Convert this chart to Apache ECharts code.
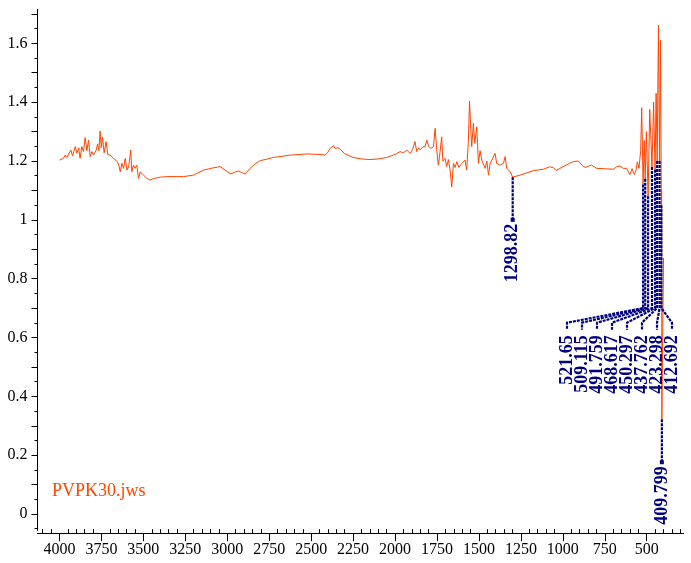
<!DOCTYPE html>
<html><head><meta charset="utf-8">
<script src="https://cdn.jsdelivr.net/npm/echarts@6/dist/echarts.min.js"></script>
<style>html,body{margin:0;padding:0;background:#fff}#c{width:691px;height:563px}</style>
</head><body><div id="c"></div>
<script>
// ---- data ----
const wavenumbers = [4000,3990,3976,3966,3956,3946,3932,3922,3906,3896,3886,3877,3867,3857,3847,3837,3827,3817,3807,3797,3781,3773,3765,3758,3751,3744,3734,3722,3712,3698,3688,3678,3668,3654,3644,3638,3628,3618,3608,3598,3588,3575,3569,3559,3549,3539,3529,3519,3499,3479,3460,3440,3400,3360,3300,3261,3201,3142,3090,3042,3013,2979,2955,2933,2910,2893,2864,2830,2804,2724,2625,2525,2440,2417,2400,2387,2367,2358,2351,2340,2327,2300,2250,2200,2150,2100,2050,2000,1970,1950,1930,1910,1895,1881,1871,1860,1850,1835,1821,1811,1800,1785,1771,1761,1752,1742,1732,1722,1715,1702,1692,1682,1672,1662,1652,1642,1632,1620,1602,1583,1573,1563,1556,1548,1543,1533,1525,1513,1503,1493,1483,1463,1453,1443,1434,1424,1404,1394,1374,1354,1344,1334,1314,1298.82,1255,1176,1116,1080,1057,1040,1000,960,937,907,885,867,848,828,798,760,700,680,660,640,620,600,587,580,573,563,556,546,536,530,521.65,515,509.115,502,491.759,482,468.617,459,450.297,444,437.762,430,423.298,418,412.692,411,409.799,405,400];
const transmittance = [1.203,1.205,1.209,1.220,1.212,1.215,1.237,1.217,1.249,1.226,1.245,1.209,1.249,1.232,1.280,1.235,1.271,1.215,1.232,1.220,1.237,1.258,1.235,1.302,1.245,1.282,1.228,1.266,1.222,1.220,1.226,1.209,1.215,1.197,1.180,1.163,1.192,1.175,1.209,1.169,1.180,1.237,1.163,1.186,1.175,1.186,1.141,1.163,1.152,1.141,1.135,1.140,1.145,1.147,1.147,1.147,1.152,1.169,1.176,1.181,1.169,1.156,1.162,1.166,1.160,1.156,1.175,1.192,1.201,1.212,1.220,1.224,1.222,1.220,1.230,1.243,1.252,1.243,1.238,1.245,1.240,1.225,1.212,1.207,1.205,1.207,1.212,1.222,1.232,1.228,1.237,1.226,1.240,1.266,1.232,1.245,1.238,1.248,1.249,1.271,1.250,1.243,1.249,1.311,1.240,1.186,1.230,1.282,1.200,1.209,1.181,1.205,1.169,1.112,1.192,1.178,1.198,1.178,1.192,1.203,1.169,1.266,1.404,1.300,1.249,1.328,1.260,1.316,1.192,1.235,1.203,1.175,1.200,1.152,1.190,1.186,1.226,1.192,1.186,1.192,1.215,1.175,1.163,1.145,1.152,1.167,1.172,1.180,1.178,1.168,1.180,1.192,1.198,1.200,1.185,1.178,1.182,1.186,1.175,1.174,1.172,1.180,1.183,1.175,1.175,1.154,1.174,1.162,1.154,1.170,1.197,1.175,1.235,1.381,1.12,1.27,1.14,1.30,1.08,1.375,1.18,1.40,1.17,1.43,1.20,1.662,1.20,1.61,1.05,1.10,0.322,0.60,0.87];

const fanPeaks = ["521.65","509.115","491.759","468.617","450.297","437.762","423.298","412.692"];
const singlePeaks = ["1298.82","409.799"];
const singleEnds = [1.0, 0.176];   // value where each single leader ends

const xMajorTicks = [4000,3750,3500,3250,3000,2750,2500,2250,2000,1750,1500,1250,1000,750,500];
const xMinorTicks = [4100,4050,3950,3900,3850,3800,3700,3650,3600,3550,3450,3400,3350,3300,3200,3150,3100,3050,2950,2900,2850,2800,2700,2650,2600,2550,2450,2400,2350,2300,2200,2150,2100,2050,1950,1900,1850,1800,1700,1650,1600,1550,1450,1400,1350,1300,1200,1150,1100,1050,950,900,850,800,700,650,600,550,450,400,350,300];
const yLabelTicks = [0,0.2,0.4,0.6,0.8,1,1.2,1.4,1.6];
const yMajorTicks = [0,0.1,0.2,0.3,0.4,0.5,0.6,0.7,0.8,0.9,1,1.1,1.2,1.3,1.4,1.5,1.6,1.7];
const yMinorTicks = [-0.05,0.05,0.15,0.25,0.35,0.45,0.55,0.65,0.75,0.85,0.95,1.05,1.15,1.25,1.35,1.45,1.55,1.65];

// ---- build ----
const spectrum = wavenumbers.map((w, i) => [w, transmittance[i]]);
function valueAt(label) {
  const i = wavenumbers.indexOf(parseFloat(label));
  return transmittance[i];
}
const fanData = fanPeaks.map((l, i) => [parseFloat(l), valueAt(l), i]);
const singleData = singlePeaks.map((l, i) => [parseFloat(l), valueAt(l), singleEnds[i], i]);

const NAVY = '#000080';
const LEAD = {stroke: NAVY, lineWidth: 2.2, lineDash: [3, 1], fill: null};
const SERIF = 'Liberation Serif';

const gridPos = {left: 37.5, right: 7.7, top: 9.5, bottom: 32.8, containLabel: false};
const X_MIN = 282, X_MAX = 4131, Y_MIN = -0.055, Y_MAX = 1.715;
const plain = v => String(v);

const chart = echarts.init(document.getElementById('c'), null, {renderer: 'canvas'});
chart.setOption({
  animation: false,
  backgroundColor: '#fff',
  textStyle: {fontFamily: SERIF},
  grid: [Object.assign({}, gridPos), Object.assign({}, gridPos)],
  xAxis: [
    {gridIndex: 0, type: 'value', inverse: true, min: X_MIN, max: X_MAX, position: 'bottom', offset: 3,
     axisLine: {show: true, onZero: false, lineStyle: {color: '#000', width: 1}},
     axisTick: {show: true, customValues: xMajorTicks, length: 8, lineStyle: {color: '#000', width: 1}},
     axisLabel: {customValues: xMajorTicks, formatter: plain, margin: 9, color: '#000', fontSize: 16, fontFamily: SERIF},
     splitLine: {show: false}},
    {gridIndex: 1, type: 'value', inverse: true, min: X_MIN, max: X_MAX, position: 'bottom', offset: 3,
     axisLine: {show: true, onZero: false, lineStyle: {color: '#000', width: 1}},
     axisTick: {show: true, customValues: xMinorTicks, inside: true, length: 4, lineStyle: {color: '#000', width: 1}},
     axisLabel: {show: false}, splitLine: {show: false}}
  ],
  yAxis: [
    {gridIndex: 0, type: 'value', min: Y_MIN, max: Y_MAX, position: 'left',
     axisLine: {show: true, onZero: false, lineStyle: {color: '#000', width: 1}},
     axisTick: {show: true, customValues: yMajorTicks, length: 6, lineStyle: {color: '#000', width: 1}},
     axisLabel: {customValues: yLabelTicks, formatter: plain, margin: 10, color: '#000', fontSize: 16, fontFamily: SERIF},
     splitLine: {show: false}},
    {gridIndex: 1, type: 'value', min: Y_MIN, max: Y_MAX, position: 'left',
     axisLine: {show: true, onZero: false, lineStyle: {color: '#000', width: 1}},
     axisTick: {show: true, customValues: yMinorTicks, length: 3, lineStyle: {color: '#000', width: 1}},
     axisLabel: {show: false}, splitLine: {show: false}}
  ],
  graphic: [{
    type: 'text', left: 52, top: 482,
    style: {text: 'PVPK30.jws', fontFamily: SERIF, fontSize: 18, fill: '#ff4500'}
  }],
  series: [
    {type: 'line', xAxisIndex: 1, yAxisIndex: 1, data: [], showSymbol: false, silent: true},
    {type: 'line', xAxisIndex: 0, yAxisIndex: 0, data: spectrum, showSymbol: false, symbol: 'none',
     lineStyle: {color: '#ff4500', width: 1}, z: 3},
    {type: 'custom', xAxisIndex: 0, yAxisIndex: 0, data: fanData, encode: {x: 0, y: 1}, z: 4,
     renderItem: function (params, api) {
       const w = api.value(0), v = api.value(1), i = api.value(2);
       const p = api.coord([w, v]);
       const bendY = api.coord([w, 0.70])[1];
       const lx = 567 + 15 * i;
       const topY = bendY + 14.6;
       return {type: 'group', children: [
         {type: 'polyline', shape: {points: [p, [p[0], bendY], [lx, topY], [lx, topY + 7]]}, style: LEAD},
         {type: 'text', x: lx, y: topY + 12.5, rotation: Math.PI / 2,
          style: {text: fanPeaks[i], fontFamily: SERIF, fontSize: 18, fontWeight: 'bold', fill: NAVY, align: 'right', verticalAlign: 'middle'}}
       ]};
     }},
    {type: 'custom', xAxisIndex: 0, yAxisIndex: 0, data: singleData, encode: {x: 0, y: 1}, z: 5,
     renderItem: function (params, api) {
       const w = api.value(0), v = api.value(1), e = api.value(2), i = api.value(3);
       const p = api.coord([w, v]);
       const endY = api.coord([w, e])[1];
       return {type: 'group', children: [
         {type: 'polyline', shape: {points: [p, [p[0], endY]]}, style: LEAD},
         {type: 'rect', shape: {x: p[0] - 2, y: endY - 2, width: 4, height: 4}, style: {fill: NAVY}},
         {type: 'text', x: p[0], y: endY + 4, rotation: Math.PI / 2,
          style: {text: singlePeaks[i], fontFamily: SERIF, fontSize: 18, fontWeight: 'bold', fill: NAVY, align: 'right', verticalAlign: 'middle'}}
       ]};
     }}
  ]
});
</script></body></html>
